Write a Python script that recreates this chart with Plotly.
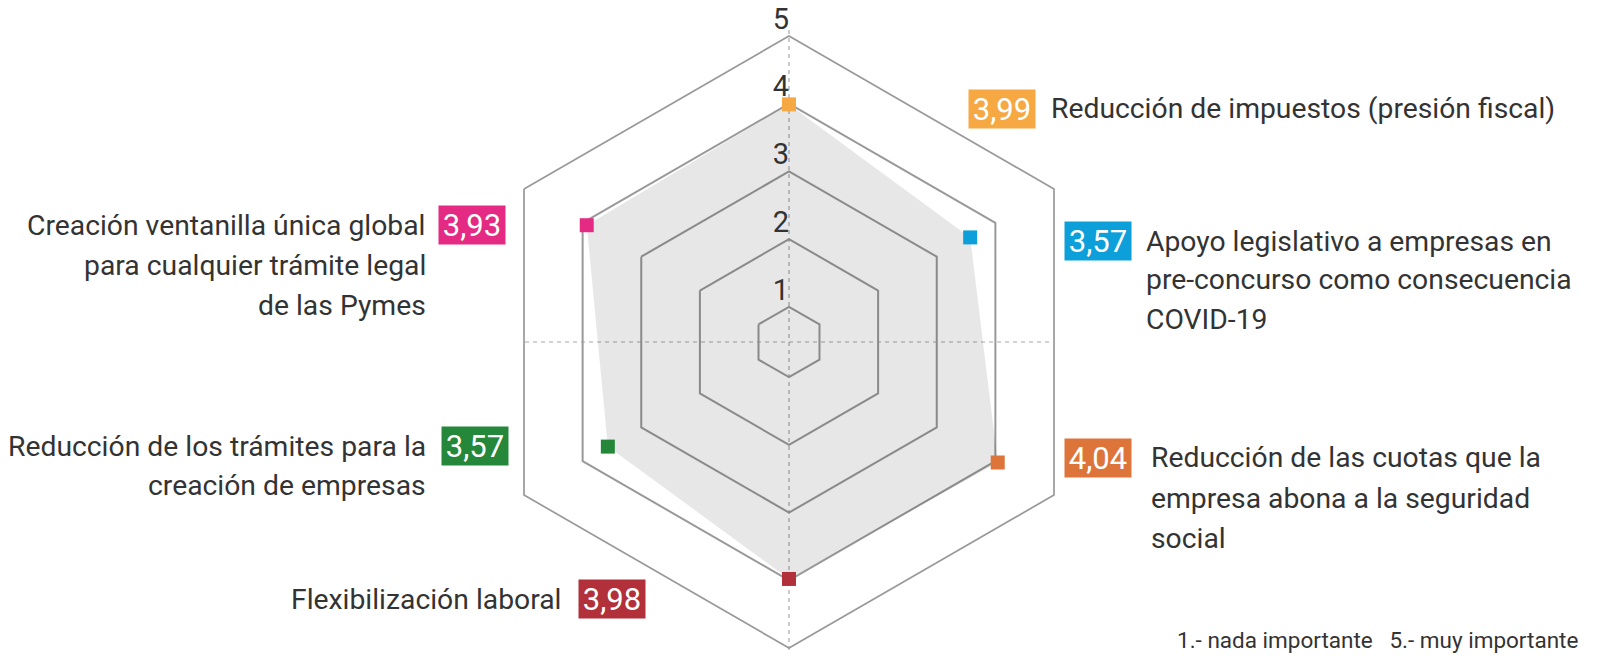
import plotly.graph_objects as go

# ---------------- data ----------------
categories = [
    "Reducción de impuestos (presión fiscal)",
    "Apoyo legislativo a empresas en pre-concurso como consecuencia COVID-19",
    "Reducción de las cuotas que la empresa abona a la seguridad social",
    "Flexibilización laboral",
    "Reducción de los trámites para la creación de empresas",
    "Creación ventanilla única global para cualquier trámite legal de las Pymes",
]
values = [3.99, 3.57, 4.04, 3.98, 3.57, 3.93]
value_labels = ["3,99", "3,57", "4,04", "3,98", "3,57", "3,93"]
colors = ["#F6A843", "#0C9FD9", "#DD753A", "#B2303A", "#25873A", "#E42A82"]
label_lines = [
    ["Reducción de impuestos (presión fiscal)"],
    ["Apoyo legislativo a empresas en", "pre-concurso como consecuencia", "COVID-19"],
    ["Reducción de las cuotas que la", "empresa abona a la seguridad", "social"],
    ["Flexibilización laboral"],
    ["Reducción de los trámites para la", "creación de empresas"],
    ["Creación ventanilla única global", "para cualquier trámite legal", "de las Pymes"],
]
radial_ticks = [1, 2, 3, 4, 5]
footnote = "1.- nada importante   5.- muy importante"

# ---------------- layout helpers ----------------
W, H = 1604, 656
FONT = "Roboto, Lato, Liberation Sans, sans-serif"
TXT = "#333333"
GRID = "#999999"


def px(x):
    return x / W


def py(y):
    return 1 - y / H


# placement of value boxes and label text (pixels)
# (box_left, box_center_y, text_side, text_x, first_line_y, line_step)
placements = [
    (968, 109, "left", 1049, 109, 39),
    (1064, 241, "left", 1144, 241, 39),
    (1064, 458, "left", 1149, 458, 40),
    (578, 599, "right", 564, 599, 40),
    (441, 446, "right", 428, 446, 39),
    (438, 225, "right", 428, 225, 40),
]

fig = go.Figure()

# filled area
fig.add_trace(go.Scatterpolar(
    r=values + [values[0]],
    theta=categories + [categories[0]],
    mode="lines",
    fill="toself",
    fillcolor="rgba(0,0,0,0.095)",
    line=dict(color="rgba(0,0,0,0)", width=0),
    hoverinfo="skip",
    showlegend=False,
))

# coloured square markers
fig.add_trace(go.Scatterpolar(
    r=values,
    theta=categories,
    mode="markers",
    marker=dict(symbol="square", size=14, color=colors, line=dict(width=0)),
    showlegend=False,
    hoverinfo="skip",
))

# radial tick labels drawn along the vertical axis
fig.add_trace(go.Scatterpolar(
    r=radial_ticks,
    theta=[categories[0]] * len(radial_ticks),
    mode="text",
    text=[str(t) for t in radial_ticks],
    textposition="top left",
    textfont=dict(family=FONT, size=29, color=TXT),
    cliponaxis=False,
    showlegend=False,
    hoverinfo="skip",
))

annotations = []
for i, (bx, by, side, tx, ty, step) in enumerate(placements):
    annotations.append(dict(
        text=value_labels[i], x=px(bx), y=py(by), xref="paper", yref="paper",
        xanchor="left", yanchor="middle", showarrow=False,
        width=66, height=38, bgcolor=colors[i], borderpad=0, align="center",
        font=dict(family=FONT, size=31, color="white"),
    ))
    for j, line in enumerate(label_lines[i]):
        annotations.append(dict(
            text=line, x=px(tx), y=py(ty + j * step), xref="paper", yref="paper",
            xanchor=side, yanchor="middle", showarrow=False, align=side,
            font=dict(family=FONT, size=28.3, color=TXT),
        ))

annotations.append(dict(
    text=footnote, x=px(1580), y=py(640), xref="paper", yref="paper",
    xanchor="right", yanchor="middle", showarrow=False,
    font=dict(family=FONT, size=22.5, color=TXT),
))

cx, cy = 789, 342
shapes = [
    dict(type="line", xref="paper", yref="paper", x0=px(cx), x1=px(cx), y0=py(30), y1=py(654),
         line=dict(color="#a8a8a8", width=1.2, dash="4px,4px"), layer="below"),
    dict(type="line", xref="paper", yref="paper", x0=px(525), x1=px(1053), y0=py(cy), y1=py(cy),
         line=dict(color="#a8a8a8", width=1.2, dash="4px,4px"), layer="below"),
]

R = 306
fig.update_layout(
    width=W, height=H,
    margin=dict(l=0, r=0, t=0, b=0),
    paper_bgcolor="white",
    plot_bgcolor="white",
    showlegend=False,
    annotations=annotations,
    shapes=shapes,
    polar=dict(
        domain=dict(x=[px(cx - R), px(cx + R)], y=[py(cy + R), py(cy - R)]),
        bgcolor="rgba(0,0,0,0)",
        gridshape="linear",
        angularaxis=dict(
            type="category", direction="clockwise", rotation=90,
            showgrid=False, showticklabels=False, ticks="",
            showline=True, linecolor=GRID, linewidth=1.7,
        ),
        radialaxis=dict(
            range=[0.48, 5], tickvals=[1, 2, 3, 4], showticklabels=False, ticks="",
            showline=False, gridcolor=GRID, gridwidth=1.7,
        ),
    ),
)

fig.write_html(
    "out.html",
    config={"displayModeBar": False},
    post_script="document.body.style.margin='0';",
)
